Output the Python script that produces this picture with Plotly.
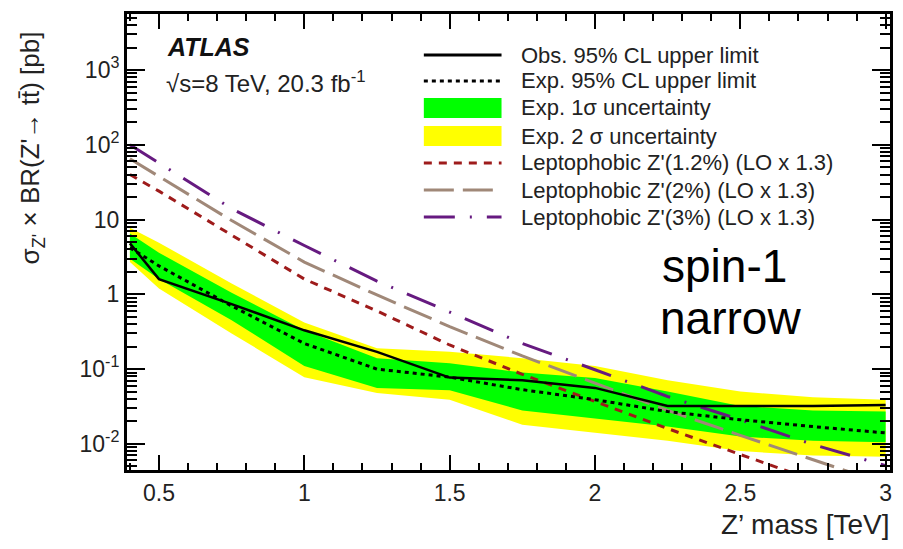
import plotly.graph_objects as go

# Z' mass points [TeV]
mass = [0.4, 0.5, 0.75, 1.0, 1.25, 1.5, 1.75, 2.0, 2.25, 2.5, 2.75, 3.0]

# 95% CL upper limits on sigma x BR [pb]
obs_limit = [4.8, 1.6, 0.74, 0.33, 0.17, 0.077, 0.071, 0.056, 0.032, 0.032, 0.032, 0.033]
exp_limit = [4.2, 2.4, 0.70, 0.22, 0.10, 0.078, 0.053, 0.039, 0.027, 0.021, 0.017, 0.014]

# expected-limit uncertainty bands
one_sigma_up = [6.5, 3.6, 1.05, 0.33, 0.14, 0.12, 0.09, 0.076, 0.05, 0.032, 0.028, 0.027]
one_sigma_lo = [3.0, 1.6, 0.45, 0.11, 0.056, 0.052, 0.028, 0.022, 0.017, 0.0125, 0.011, 0.0105]
two_sigma_up = [7.8, 4.9, 1.4, 0.42, 0.19, 0.17, 0.14, 0.11, 0.071, 0.05, 0.042, 0.039]
two_sigma_lo = [2.7, 1.2, 0.30, 0.078, 0.048, 0.039, 0.018, 0.014, 0.011, 0.008, 0.007, 0.0067]

# leptophobic Z' theory cross sections (LO x 1.3) [pb]
zp_w12 = [40, 24, 6.2, 1.6, 0.6, 0.21, 0.085, 0.037, 0.016, 0.0072, 0.0033, 0.0015]
zp_w20 = [65, 38, 9.7, 2.7, 0.98, 0.37, 0.15, 0.065, 0.028, 0.013, 0.0062, 0.0029]
zp_w30 = [100, 57, 14, 4.5, 1.5, 0.58, 0.22, 0.098, 0.043, 0.021, 0.0098, 0.0051]

x_ticks = [0.5, 1.0, 1.5, 2.0, 2.5, 3.0]
x_ticktext = ["0.5", "1", "1.5", "2", "2.5", "3"]
y_ticks = [0.01, 0.1, 1, 10, 100, 1000]
y_ticktext = ["10<sup>-2</sup>", "10<sup>-1</sup>", "1", "10", "10<sup>2</sup>", "10<sup>3</sup>"]

GREEN = "#00ff00"
YELLOW = "#ffff00"
RED = "#9e1b1b"
BROWN = "#a08878"
PURPLE = "#661a80"
FONT = "Liberation Sans, Arial, Helvetica, sans-serif"

W, H = 903, 549
L, R, T, B = 127, 10, 14, 79
PW, PH = W - L - R, H - T - B


def px(xp):
    return (xp - L) / PW


def py(yp):
    return (H - B - yp) / PH


fig = go.Figure()

# 2 sigma band
fig.add_trace(go.Scatter(x=mass, y=two_sigma_lo, mode="lines", line=dict(width=0, color=YELLOW),
                         showlegend=False, hoverinfo="skip"))
fig.add_trace(go.Scatter(x=mass, y=two_sigma_up, mode="lines", line=dict(width=0, color=YELLOW),
                         fill="tonexty", fillcolor=YELLOW, showlegend=False))
# 1 sigma band
fig.add_trace(go.Scatter(x=mass, y=one_sigma_lo, mode="lines", line=dict(width=0, color=GREEN),
                         showlegend=False, hoverinfo="skip"))
fig.add_trace(go.Scatter(x=mass, y=one_sigma_up, mode="lines", line=dict(width=0, color=GREEN),
                         fill="tonexty", fillcolor=GREEN, showlegend=False))

# theory curves
fig.add_trace(go.Scatter(x=mass, y=zp_w12, mode="lines",
                         line=dict(color=RED, width=3, dash="8px,7px"), showlegend=False))
fig.add_trace(go.Scatter(x=mass, y=zp_w20, mode="lines",
                         line=dict(color=BROWN, width=3, dash="30px,9px"), showlegend=False))
fig.add_trace(go.Scatter(x=mass, y=zp_w30, mode="lines",
                         line=dict(color=PURPLE, width=3, dash="31px,15px,2px,15px"), showlegend=False))

# limits
fig.add_trace(go.Scatter(x=mass, y=exp_limit, mode="lines",
                         line=dict(color="black", width=3, dash="4px,4px"), showlegend=False))
fig.add_trace(go.Scatter(x=mass, y=obs_limit, mode="lines",
                         line=dict(color="black", width=2.5), showlegend=False))

# legend drawn as paper-space samples and labels
legend_rows = [
    ("line", "black", "solid", "Obs. 95% CL upper limit"),
    ("line", "black", "4px,4px", "Exp. 95% CL upper limit"),
    ("box", GREEN, None, "Exp. 1\u03c3 uncertainty"),
    ("box", YELLOW, None, "Exp. 2 \u03c3 uncertainty"),
    ("line", RED, "8px,7px", "Leptophobic Z'(1.2%) (LO x 1.3)"),
    ("line", BROWN, "30px,9px", "Leptophobic Z'(2%) (LO x 1.3)"),
    ("line", PURPLE, "31px,15px,2px,15px", "Leptophobic Z'(3%) (LO x 1.3)"),
]
row_y = [55, 81, 108, 136, 163, 190, 217]
shapes = []
annotations = []
for (kind, color, dash, label), yc in zip(legend_rows, row_y):
    if kind == "line":
        shapes.append(dict(type="line", xref="paper", yref="paper",
                           x0=px(425), x1=px(503), y0=py(yc), y1=py(yc),
                           line=dict(color=color, width=3, dash=dash)))
    else:
        shapes.append(dict(type="rect", xref="paper", yref="paper",
                           x0=px(425), x1=px(503), y0=py(yc - 10), y1=py(yc + 10),
                           line=dict(width=0), fillcolor=color))
    annotations.append(dict(xref="paper", yref="paper", x=px(521), y=py(yc),
                            xanchor="left", yanchor="middle", showarrow=False,
                            text=label, font=dict(family=FONT, size=22, color="#222")))

annotations += [
    dict(xref="paper", yref="paper", x=px(165), y=py(47), xanchor="left", yanchor="middle",
         showarrow=False, text="<b><i>ATLAS</i></b>", font=dict(family=FONT, size=25, color="#111")),
    dict(xref="paper", yref="paper", x=px(164), y=py(82), xanchor="left", yanchor="middle",
         showarrow=False, text="\u221as=8 TeV, 20.3 fb<sup>-1</sup>",
         font=dict(family=FONT, size=24, color="#222")),
    dict(xref="paper", yref="paper", x=px(662), y=py(266), xanchor="left", yanchor="middle",
         showarrow=False, text="spin-1", font=dict(family=FONT, size=46, color="black")),
    dict(xref="paper", yref="paper", x=px(660), y=py(318), xanchor="left", yanchor="middle",
         showarrow=False, text="narrow", font=dict(family=FONT, size=46, color="black")),
    dict(xref="paper", yref="paper", x=px(895), y=py(524), xanchor="right", yanchor="middle",
         showarrow=False, text="Z\u2019 mass [TeV]", font=dict(family=FONT, size=28, color="#222")),
    dict(xref="paper", yref="paper", x=px(31), y=py(148), xanchor="center", yanchor="middle",
         textangle=-90, showarrow=False,
         text="\u03c3<sub>Z'</sub> \u00d7 BR(Z'\u2192 tt\u0304) [pb]",
         font=dict(family=FONT, size=26, color="#222")),
]

fig.update_layout(
    width=W, height=H,
    margin=dict(l=L, r=R, t=T, b=B),
    paper_bgcolor="white", plot_bgcolor="white",
    shapes=shapes, annotations=annotations,
    showlegend=False,
    xaxis=dict(range=[0.39, 3.015], tickvals=x_ticks, ticktext=x_ticktext,
               ticks="inside", ticklen=15, tickwidth=2, tickcolor="black",
               minor=dict(ticks="inside", dtick=0.1, tick0=0, ticklen=7, tickwidth=2, tickcolor="black"),
               showline=True, linewidth=3, linecolor="black", mirror="ticks",
               showgrid=False, zeroline=False,
               tickfont=dict(family=FONT, size=23, color="#222")),
    yaxis=dict(type="log", range=[-2.35, 3.75], tickvals=y_ticks, ticktext=y_ticktext,
               ticks="inside", ticklen=18, tickwidth=2, tickcolor="black",
               minor=dict(ticks="inside", dtick="D1", ticklen=10, tickwidth=2, tickcolor="black"),
               showline=True, linewidth=3, linecolor="black", mirror="ticks",
               showgrid=False, zeroline=False,
               tickfont=dict(family=FONT, size=23, color="#222")),
)

fig.write_html("out.html")
